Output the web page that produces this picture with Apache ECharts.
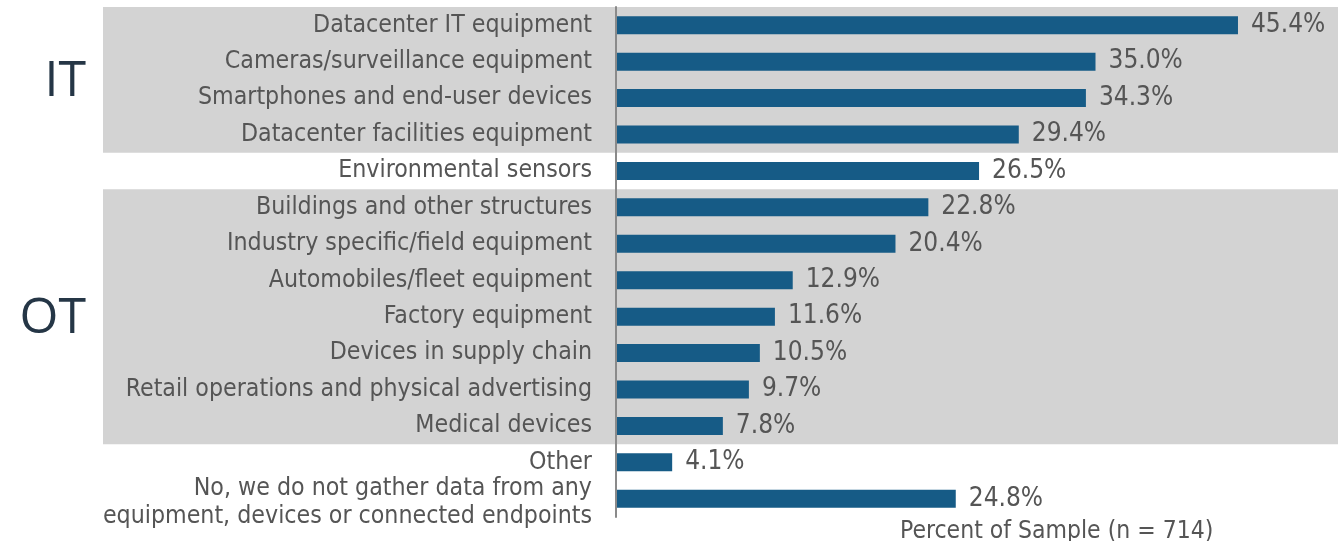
<!DOCTYPE html>
<html>
<head>
<meta charset="utf-8">
<script src="https://cdn.jsdelivr.net/npm/echarts@6/dist/echarts.min.js"></script>
<style>
  html, body { margin: 0; padding: 0; background: #fff; }
  #chart { width: 1338px; height: 541px; }
</style>
</head>
<body>
<div id="chart"></div>
<script>
const categories = [
  "Datacenter IT equipment",
  "Cameras/surveillance equipment",
  "Smartphones and end-user devices",
  "Datacenter facilities equipment",
  "Environmental sensors",
  "Buildings and other structures",
  "Industry specific/field equipment",
  "Automobiles/fleet equipment",
  "Factory equipment",
  "Devices in supply chain",
  "Retail operations and physical advertising",
  "Medical devices",
  "Other",
  "No, we do not gather data from any\nequipment, devices or connected endpoints"
]
const values = [45.4, 35.0, 34.3, 29.4, 26.5, 22.8, 20.4, 12.9, 11.6, 10.5, 9.7, 7.8, 4.1, 24.8]
// groups shaded in gray: [label, first row, last row]
const groups = [["IT", 0, 3], ["OT", 5, 11]]
const axisTitle = "Percent of Sample (n = 714)"

const font = "DejaVu Sans Condensed"
const chart = echarts.init(document.getElementById("chart"))

chart.setOption({
  animation: false,
  grid: { left: 616, right: 37, top: 7, bottom: 24 },
  xAxis: {
    type: "value",
    min: 0,
    max: 50,
    show: false,
  },
  yAxis: {
    type: "category",
    inverse: true,
    data: categories,
    axisLine: { show: true, lineStyle: { color: "#8a8a8a", width: 2 } },
    axisTick: { show: false },
    axisLabel: {
      interval: 0,
      margin: 24,
      fontFamily: font,
      fontSize: 24.7,
      color: "#555",
      lineHeight: 28,
      // the two-line answer sits a little lower than its bar: add a thin empty line on top
      formatter: v =>
        v.includes("\n") ? "{gap| }\n" + v.split("\n").map(s => `{t|${s}}`).join("\n") : v,
      rich: {
        gap: { fontSize: 1, lineHeight: 8, height: 8 },
        t: { fontFamily: font, fontSize: 24.7, color: "#555", lineHeight: 28 },
      },
    },
    z: 5,
  },
  title: {
    text: axisTitle,
    left: 895,
    top: 514,
    textStyle: { fontFamily: font, fontSize: 24.5, fontWeight: "normal", color: "#555" },
  },
  series: [
    {
      type: "bar",
      data: values,
      barWidth: 18,
      itemStyle: { color: "#165b86" },
      label: {
        show: true,
        position: "right",
        distance: 13,
        formatter: p => p.value.toFixed(1) + "%",
        fontFamily: font,
        fontSize: 26,
        color: "#555",
      },
      z: 3,
    },
  ],
})

// gray group bands behind rows, computed from the category axis
const step = chart.convertToPixel({ yAxisIndex: 0 }, categories[1]) -
  chart.convertToPixel({ yAxisIndex: 0 }, categories[0])
const graphics = []
groups.forEach(([name, a, b]) => {
  const y0 = chart.convertToPixel({ yAxisIndex: 0 }, categories[a]) - step / 2
  const y1 = chart.convertToPixel({ yAxisIndex: 0 }, categories[b]) + step / 2
  graphics.push({
    type: "rect",
    z: -10,
    silent: true,
    shape: { x: 103, y: y0, width: 1338 - 103, height: y1 - y0 },
    style: { fill: "#d3d3d3" },
  })
  graphics.push({
    type: "text",
    z: 10,
    x: 86,
    y: (y0 + y1) / 2 + 2,
    style: {
      text: name,
      fontFamily: "Open Sans",
      fontSize: 50,
      fill: "#253646",
      align: "right",
      verticalAlign: "middle",
    },
  })
})
chart.setOption({ graphic: graphics })
</script>
</body>
</html>
